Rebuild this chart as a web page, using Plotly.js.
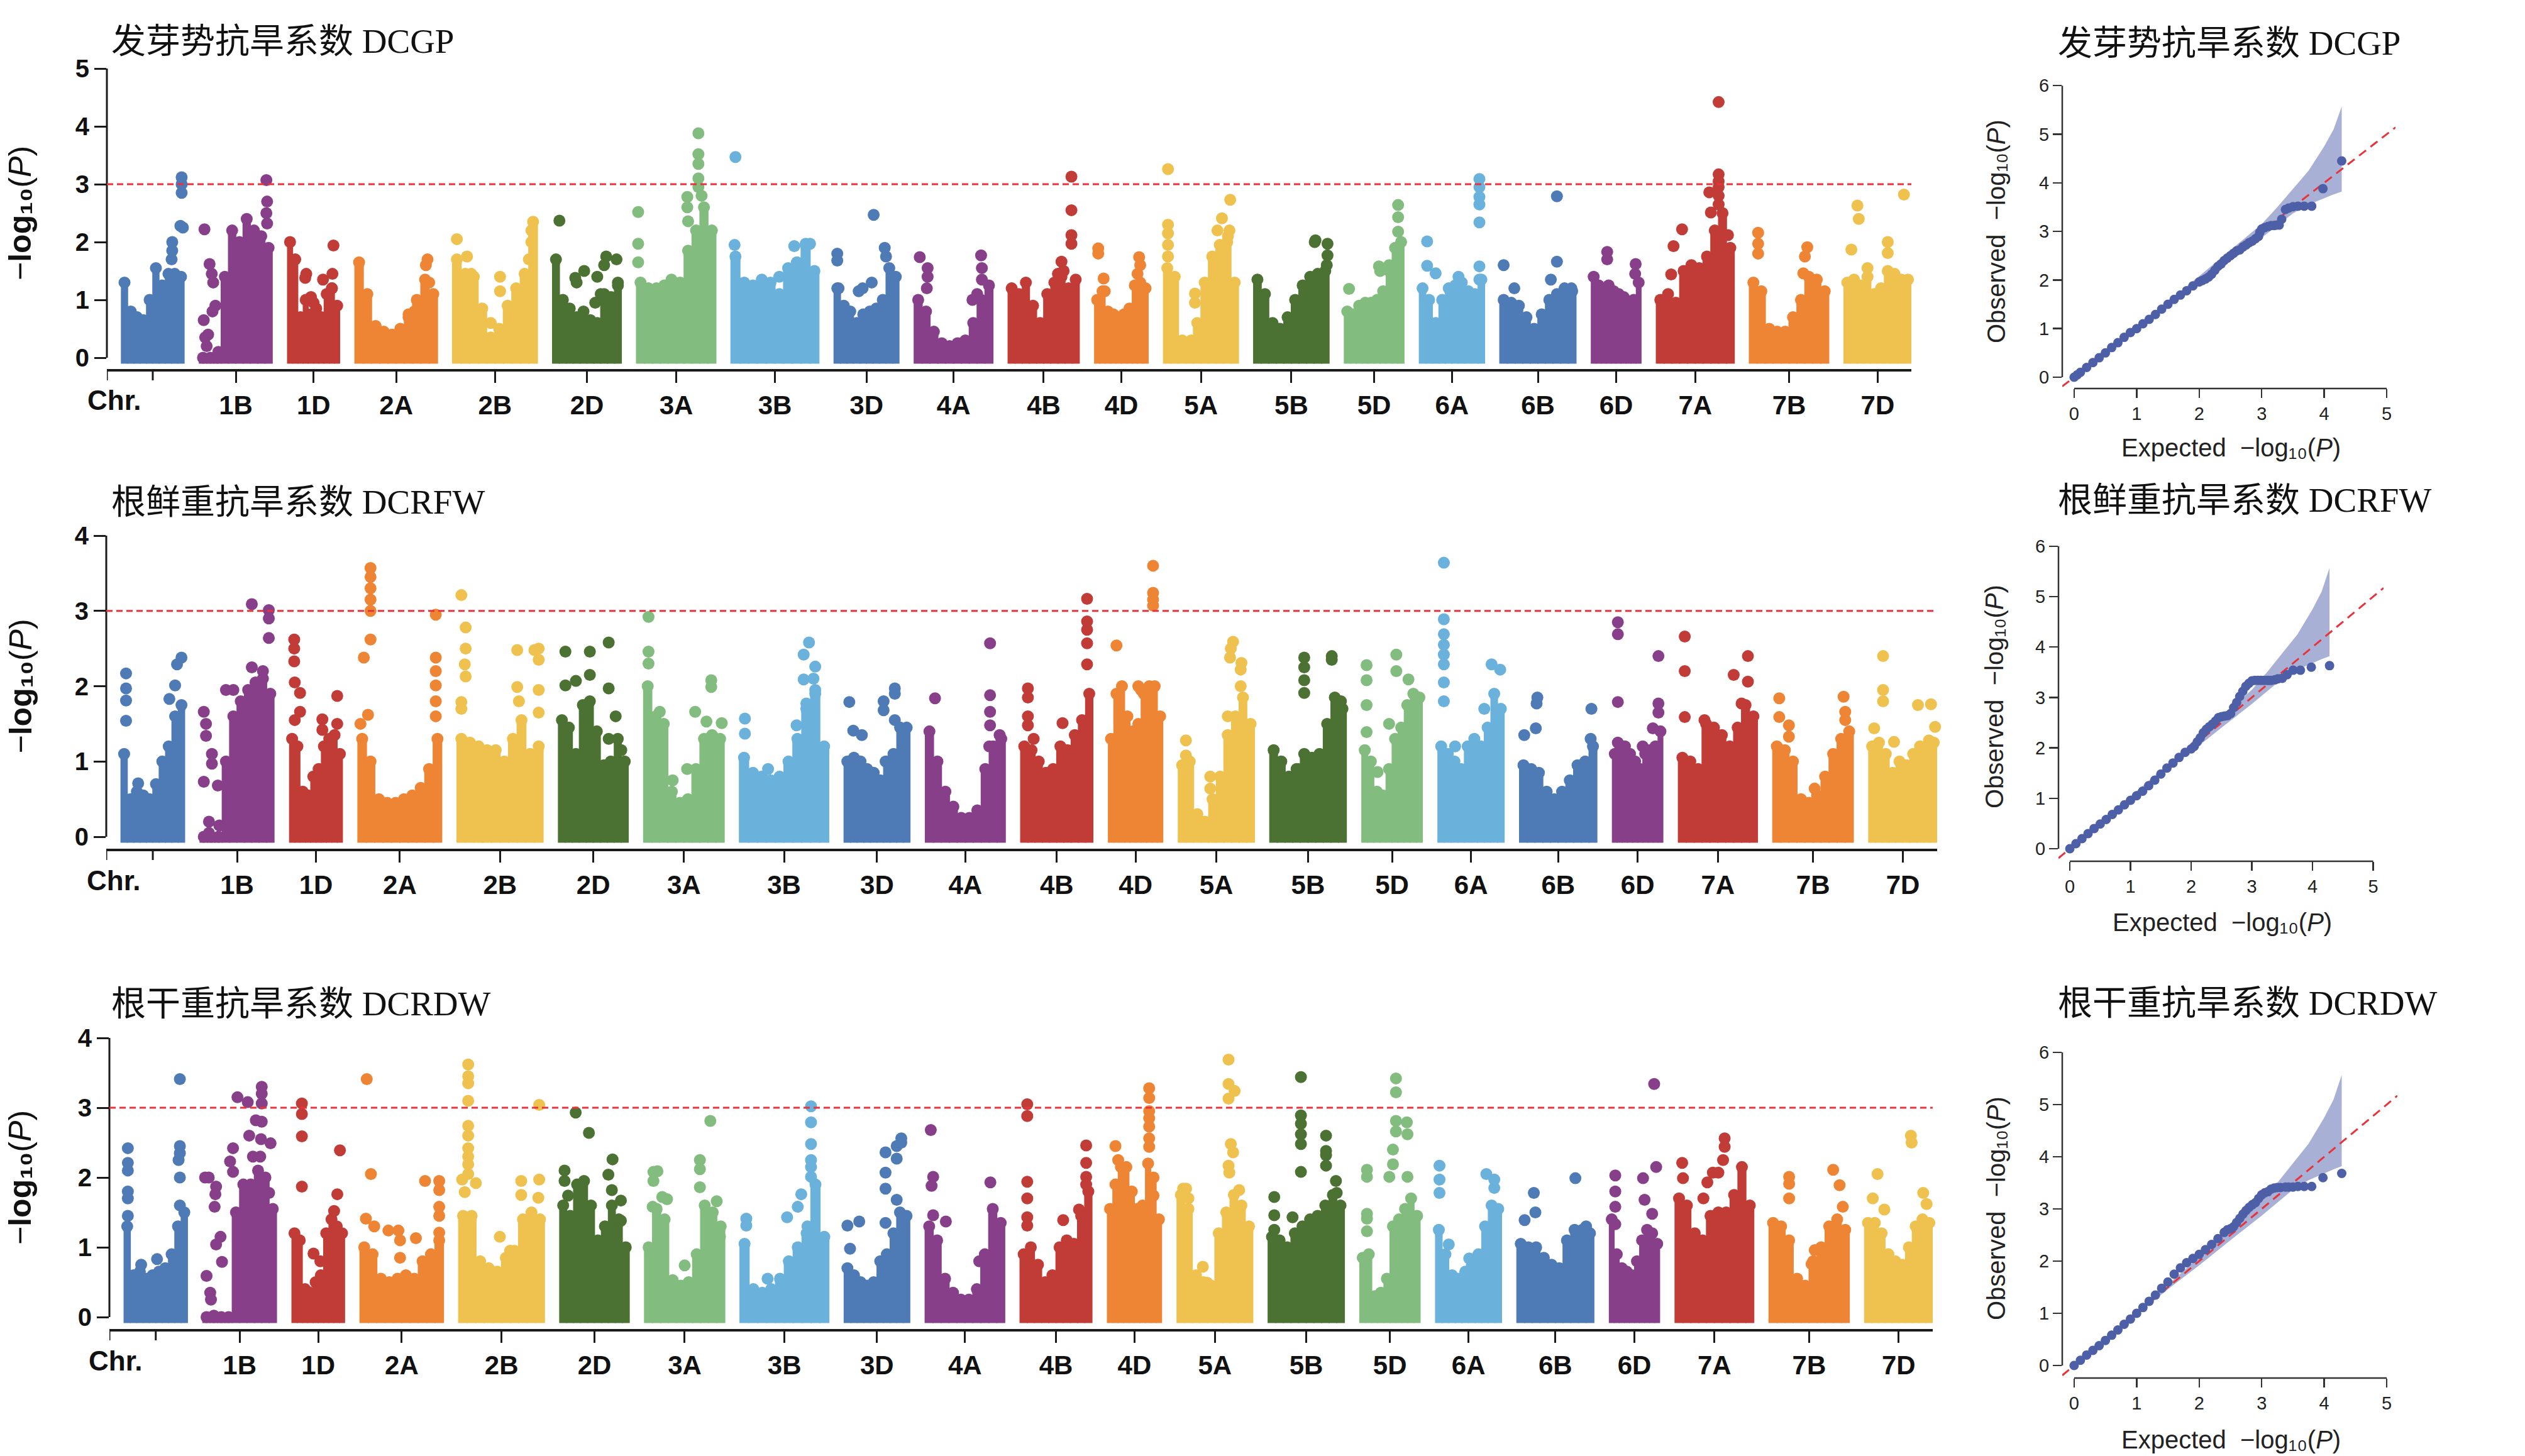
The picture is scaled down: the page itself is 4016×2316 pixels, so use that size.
<!DOCTYPE html>
<html>
<head>
<meta charset="utf-8">
<script src="https://cdn.plot.ly/plotly-3.0.1.min.js"></script>
<style>
html,body{margin:0;padding:0;background:#fff;}
#chart{width:4016px;height:2316px;}
</style>
</head>
<body>
<div id="chart"></div>
<script>
// ---------------- DATA ----------------
const chrNames = ['1A','1B','1D','2A','2B','2D','3A','3B','3D','4A','4B','4D','5A','5B','5D','6A','6B','6D','7A','7B','7D'];
const chrLenMb = [594,689,495,780,801,651,750,830,615,744,673,509,709,713,566,618,720,473,736,750,638];
const panelTitles = ['发芽势抗旱系数 DCGP','根鲜重抗旱系数 DCRFW','根干重抗旱系数 DCRDW'];
const thresholdLog10P = 3;

// dense cloud envelope of -log10(P), 10 equal bins along each chromosome (1A..7D)
const dcgpBody = [
 [1.3,0.8,0.7,0.65,1.0,1.55,1.25,1.45,1.45,1.4],
 [0,0,0,1.4,2.2,2.0,2.4,2.2,2.1,1.9],
 [2.0,1.7,0.7,1.0,0.75,0.85,0.7,1.1,1.2,0.9],
 [1.65,1.1,0.55,0.45,0.4,0.5,0.7,1.0,1.35,1.1],
 [1.7,1.45,1.4,0.85,0.35,0.5,0.9,1.2,1.45,2.35],
 [1.7,1.0,0.85,0.7,0.8,0.65,0.6,1.1,1.05,1.3],
 [1.3,1.2,1.2,1.25,1.2,1.3,1.85,2.2,2.6,2.2],
 [1.75,1.3,1.25,1.35,1.3,1.1,1.55,1.65,1.95,1.5],
 [1.2,0.9,0.8,0.6,0.75,0.8,0.85,1.0,1.55,1.4],
 [1.0,0.8,0.45,0.25,0.2,0.25,0.3,0.6,1.0,1.25],
 [1.2,1.1,1.3,0.9,0.6,1.1,1.3,1.4,1.2,1.35],
 [1.0,1.15,0.8,0.75,0.7,0.75,0.85,1.25,1.3,1.2],
 [1.55,1.4,0.3,0.2,0.6,1.3,1.75,1.95,2.0,1.3],
 [1.35,1.1,0.6,0.5,0.7,1.0,1.25,1.4,1.45,1.5],
 [0.8,0.75,0.9,0.95,0.95,1.0,1.15,1.5,1.9,2.0],
 [1.2,1.0,0.6,1.0,1.2,1.25,1.3,1.15,1.1,1.35],
 [1.0,0.95,0.9,0.7,0.5,0.75,1.0,1.1,1.2,1.15],
 [1.4,1.25,1.2,1.25,1.15,1.1,1.05,0.9,1.0,1.3],
 [1.0,1.1,0.95,1.5,1.6,1.55,1.75,2.2,2.5,1.9],
 [1.3,1.15,0.5,0.45,0.45,0.7,1.0,1.4,1.35,1.15],
 [1.3,1.35,1.25,1.4,1.1,1.2,1.5,1.45,1.35,1.35]
];
// isolated SNPs above the cloud: [fraction along chromosome, -log10(P)]
const dcgpPeaks = [
 [[0.96,3.12],[0.96,3.0],[0.96,2.85],[0.94,2.28],[0.98,2.25],[0.81,2.0],[0.81,1.85],[0.8,1.7]],
 [[0.07,2.22],[0.14,1.62],[0.17,1.45],[0.19,1.3],[0.22,0.9],[0.18,0.8],[0.06,0.65],[0.08,0.35],[0.1,0.2],[0.26,0.1],[0.12,0.4],[0.92,3.07],[0.93,2.7],[0.92,2.5],[0.93,2.32]],
 [[0.36,1.45],[0.34,1.38],[0.45,1.05],[0.5,0.95],[0.68,1.35],[0.86,1.45],[0.88,1.94],[0.85,1.2]],
 [[0.88,1.7],[0.86,1.6],[0.72,0.8],[0.65,0.75],[0.9,1.3]],
 [[0.05,2.05],[0.17,1.75],[0.22,1.45],[0.56,1.4],[0.56,1.15],[0.45,0.6],[0.93,2.0],[0.93,2.2],[0.9,1.7]],
 [[0.1,2.37],[0.33,1.38],[0.35,1.3],[0.46,1.5],[0.65,1.4],[0.62,0.95],[0.78,1.75],[0.75,1.6],[0.93,1.7],[0.95,1.25],[0.7,1.1]],
 [[0.02,2.52],[0.02,1.97],[0.02,1.65],[0.44,1.35],[0.64,2.78],[0.64,2.6],[0.65,2.36],[0.78,3.88],[0.78,3.52],[0.78,3.35],[0.78,3.1],[0.78,2.95],[0.82,2.8]],
 [[0.05,3.47],[0.04,1.95],[0.72,1.93],[0.85,1.97],[0.9,1.97],[0.55,1.4]],
 [[0.05,1.8],[0.05,1.68],[0.07,1.2],[0.38,1.15],[0.44,1.2],[0.58,1.3],[0.61,2.47],[0.78,1.9],[0.8,1.75],[0.63,0.75]],
 [[0.07,1.74],[0.17,1.55],[0.17,1.4],[0.16,1.2],[0.85,1.77],[0.86,1.55],[0.86,1.35],[0.74,1.0],[0.8,1.1]],
 [[0.89,3.13],[0.89,2.55],[0.89,2.12],[0.89,1.97],[0.75,1.66],[0.7,1.45],[0.78,1.5]],
 [[0.07,1.89],[0.07,1.8],[0.17,1.37],[0.19,1.15],[0.83,1.74],[0.85,1.6],[0.8,1.45]],
 [[0.06,3.26],[0.06,2.3],[0.06,2.15],[0.06,1.95],[0.06,1.75],[0.42,1.11],[0.42,0.95],[0.37,0.3],[0.78,2.41],[0.89,2.73],[0.88,2.2],[0.86,2.1],[0.72,2.2]],
 [[0.82,2.03],[0.81,2.0],[0.98,1.97],[0.98,1.77],[0.97,1.6]],
 [[0.08,1.19],[0.58,1.58],[0.6,1.5],[0.9,2.64],[0.9,2.43],[0.9,2.18],[0.75,1.6]],
 [[0.12,2.01],[0.12,1.59],[0.25,1.46],[0.6,1.4],[0.92,3.09],[0.92,2.95],[0.92,2.78],[0.92,2.65],[0.92,2.34],[0.92,1.58],[0.92,1.35]],
 [[0.05,1.6],[0.19,1.2],[0.75,2.79],[0.75,1.66],[0.67,1.35],[0.94,1.2]],
 [[0.32,1.83],[0.32,1.7],[0.89,1.62],[0.88,1.45]],
 [[0.8,4.42],[0.8,3.17],[0.8,3.05],[0.8,2.95],[0.8,2.8],[0.8,2.65],[0.68,2.86],[0.7,2.51],[0.22,1.93],[0.33,2.22],[0.19,1.44],[0.92,2.12],[0.4,0.1],[0.4,0.25]],
 [[0.11,2.16],[0.11,1.97],[0.11,1.8],[0.73,1.91],[0.7,1.75],[0.68,1.46]],
 [[0.2,2.63],[0.22,2.4],[0.11,1.87],[0.65,2.0],[0.65,1.81],[0.89,2.82],[0.35,1.55]]
];

const dcrfwBody = [
 [1.1,0.5,0.6,0.55,0.5,0.7,1.0,1.2,1.6,1.75],
 [0,0,0,1.0,1.6,1.8,1.95,2.05,2.1,1.9],
 [1.3,1.2,0.6,0.55,0.8,0.9,1.2,1.3,1.35,1.1],
 [1.3,1.0,0.5,0.45,0.45,0.5,0.55,0.65,0.9,1.3],
 [1.3,1.25,1.2,1.15,1.15,1.0,1.3,1.55,1.1,1.2],
 [1.55,1.45,1.1,1.75,1.8,1.4,0.95,1.0,1.3,1.0],
 [2.0,1.6,1.5,0.6,0.45,0.5,0.9,1.3,1.35,1.3],
 [1.05,0.85,0.8,0.75,0.8,1.0,1.3,1.7,1.9,1.2],
 [1.0,1.05,1.0,0.9,0.85,0.75,1.0,1.1,1.45,1.45],
 [1.4,1.0,0.6,0.4,0.25,0.25,0.35,0.9,1.2,1.3],
 [1.2,1.15,1.0,0.85,0.9,1.2,1.15,1.35,1.55,1.9],
 [1.3,1.9,2.0,1.6,1.4,1.5,1.9,2.0,2.0,1.6],
 [0.95,1.0,0.3,0.2,0.5,0.8,1.35,1.6,1.85,1.5],
 [1.15,1.0,0.8,0.9,1.1,1.05,1.1,1.5,1.85,1.7],
 [1.15,1.0,0.6,0.55,0.9,1.3,1.45,1.75,1.9,1.85],
 [1.2,1.1,1.0,0.9,1.2,1.3,1.2,1.45,1.9,1.7],
 [0.95,0.9,0.85,0.6,0.5,0.6,0.75,0.95,1.0,1.2],
 [1.1,1.15,1.2,1.1,1.0,0.9,1.1,1.15,1.2,1.4],
 [1.05,1.0,0.9,1.5,1.45,1.35,1.2,1.45,1.75,1.6],
 [1.2,1.15,1.0,0.5,0.45,0.55,0.8,1.1,1.3,1.4],
 [1.2,1.25,1.1,0.85,1.0,0.95,1.1,1.2,1.2,1.25]
];
const dcrfwPeaks = [
 [[0.08,2.17],[0.08,1.97],[0.08,1.81],[0.08,1.54],[0.27,0.71],[0.88,2.29],[0.95,2.38],[0.85,2.01],[0.76,1.83]],
 [[0.05,1.66],[0.08,1.5],[0.08,1.34],[0.16,1.1],[0.16,0.97],[0.05,0.73],[0.24,0.68],[0.12,0.2],[0.26,0.15],[0.12,0.05],[0.7,3.09],[0.7,2.25],[0.93,3.01],[0.93,2.9],[0.93,2.64],[0.85,2.2],[0.35,1.95],[0.45,1.95]],
 [[0.09,2.62],[0.09,2.5],[0.09,2.33],[0.1,2.05],[0.2,1.91],[0.2,1.66],[0.1,1.55],[0.62,1.56],[0.62,1.42],[0.9,1.87],[0.9,1.5]],
 [[0.15,3.57],[0.15,3.45],[0.15,3.3],[0.15,3.15],[0.15,3.0],[0.15,2.62],[0.07,2.38],[0.12,1.62],[0.03,1.5],[0.93,2.95],[0.93,2.38],[0.93,2.2],[0.93,2.01],[0.93,1.8],[0.93,1.6]],
 [[0.05,3.21],[0.1,2.78],[0.1,2.5],[0.09,2.29],[0.1,2.13],[0.05,1.79],[0.05,1.7],[0.7,2.48],[0.7,1.99],[0.72,1.8],[0.95,2.5],[0.95,2.35],[0.95,1.95],[0.95,1.65],[0.9,2.48]],
 [[0.1,2.46],[0.1,2.01],[0.25,2.07],[0.45,2.46],[0.45,2.15],[0.72,2.58],[0.72,1.97],[0.82,1.6],[0.9,1.15],[0.72,1.3]],
 [[0.06,2.92],[0.06,2.46],[0.06,2.3],[0.2,1.66],[0.36,0.75],[0.54,0.9],[0.64,1.66],[0.84,2.08],[0.84,1.99],[0.78,1.53],[0.97,1.51]],
 [[0.06,1.57],[0.06,1.37],[0.64,1.48],[0.78,2.58],[0.72,2.42],[0.85,2.26],[0.72,2.09],[0.85,1.95],[0.75,1.77],[0.32,0.9],[0.83,2.1]],
 [[0.08,1.79],[0.14,1.41],[0.27,1.35],[0.6,1.8],[0.6,1.68],[0.77,1.97],[0.77,1.9],[0.77,1.55],[0.63,1.0]],
 [[0.12,1.84],[0.81,2.57],[0.81,1.88],[0.81,1.66],[0.81,1.48],[0.93,1.35],[0.8,1.2]],
 [[0.1,1.97],[0.1,1.85],[0.1,1.6],[0.1,1.48],[0.18,1.3],[0.58,1.51],[0.92,3.16],[0.92,2.86],[0.92,2.75],[0.92,2.57],[0.92,2.29]],
 [[0.15,2.54],[0.82,3.6],[0.82,3.24],[0.82,3.15],[0.82,3.07],[0.55,2.0],[0.6,1.95]],
 [[0.1,1.28],[0.1,1.08],[0.42,0.64],[0.42,0.8],[0.72,2.59],[0.69,2.5],[0.68,2.38],[0.83,2.31],[0.82,2.22],[0.82,2.0],[0.65,1.6]],
 [[0.45,2.38],[0.45,2.25],[0.45,2.08],[0.45,1.91],[0.37,0.9],[0.81,2.4],[0.81,2.35],[0.93,1.8]],
 [[0.08,2.28],[0.08,2.08],[0.08,1.75],[0.08,1.39],[0.26,0.86],[0.57,2.42],[0.57,2.2],[0.77,2.09],[0.45,1.5]],
 [[0.09,3.64],[0.09,2.89],[0.09,2.69],[0.09,2.55],[0.09,2.42],[0.09,2.29],[0.09,2.05],[0.09,1.8],[0.81,2.29],[0.94,2.22],[0.7,1.7],[0.26,1.2]],
 [[0.22,1.77],[0.23,1.85],[0.21,1.44],[0.06,1.35],[0.93,1.7],[0.92,1.3]],
 [[0.11,2.85],[0.11,2.69],[0.11,1.79],[0.11,1.25],[0.91,2.4],[0.91,1.77],[0.91,1.65],[0.8,1.44],[0.6,1.2]],
 [[0.08,2.66],[0.08,2.2],[0.08,1.59],[0.7,2.15],[0.88,2.4],[0.88,2.06],[0.8,1.77],[0.33,1.55]],
 [[0.08,1.84],[0.08,1.59],[0.2,1.48],[0.2,1.33],[0.52,0.64],[0.88,1.86],[0.9,1.66],[0.9,1.55]],
 [[0.21,2.4],[0.21,1.95],[0.21,1.8],[0.08,1.44],[0.37,1.26],[0.72,1.75],[0.91,1.76],[0.97,1.46],[0.88,1.28]]
];

const dcrdwBody = [
 [1.3,0.6,0.65,0.55,0.6,0.65,0.7,0.9,1.3,1.5],
 [0,0,0,0,1.5,1.9,1.9,2.1,2.0,1.55],
 [1.2,1.1,0.4,0.35,0.5,0.6,1.2,1.4,1.3,1.2],
 [1.0,0.9,0.55,0.5,0.55,0.6,0.55,0.8,0.9,1.1],
 [1.45,1.45,0.8,0.7,0.65,0.85,0.95,1.4,1.5,1.4],
 [1.6,1.45,1.9,1.95,1.6,1.1,1.3,1.6,1.4,1.0],
 [1.0,1.55,1.4,0.4,0.45,0.5,0.9,1.6,1.5,1.3],
 [1.05,0.4,0.35,0.4,0.55,0.8,1.0,1.2,1.9,1.15],
 [0.7,0.6,0.5,0.45,0.5,0.8,0.9,1.2,1.5,1.45],
 [1.3,1.1,0.55,0.35,0.25,0.25,0.4,0.9,1.55,1.35],
 [0.9,1.0,0.75,0.5,0.6,1.0,1.1,1.05,1.45,1.8],
 [1.55,1.9,2.15,2.15,1.8,1.55,1.6,2.2,2.0,1.4],
 [1.75,1.55,0.6,0.5,0.45,1.2,1.5,1.75,1.6,1.3],
 [1.15,1.1,1.0,1.2,1.3,1.4,1.45,1.6,1.75,1.6],
 [0.85,0.9,0.3,0.35,0.55,1.3,1.4,1.55,1.7,1.45],
 [1.25,0.9,0.6,0.55,0.65,0.75,0.9,1.3,1.6,1.55],
 [1.05,1.0,1.0,0.85,0.75,0.7,1.1,1.25,1.25,1.2],
 [1.4,0.9,0.7,0.65,0.6,0.8,1.1,1.25,1.2,1.05],
 [1.7,1.6,1.2,1.1,1.45,1.5,1.5,1.75,2.15,1.6],
 [1.35,1.3,1.1,0.55,0.45,0.8,1.0,1.3,1.4,1.25],
 [1.35,1.35,1.2,0.9,0.8,0.75,1.0,1.3,1.4,1.35]
];
const dcrdwPeaks = [
 [[0.06,2.42],[0.06,2.21],[0.06,2.1],[0.06,1.8],[0.06,1.7],[0.06,1.45],[0.27,0.75],[0.52,0.83],[0.88,3.41],[0.88,2.45],[0.88,2.35],[0.86,2.25],[0.88,2.0],[0.88,1.6]],
 [[0.03,2.0],[0.08,2.0],[0.18,1.87],[0.17,1.76],[0.16,1.58],[0.24,1.15],[0.18,1.04],[0.26,0.79],[0.05,0.59],[0.1,0.35],[0.11,0.25],[0.15,0.02],[0.41,2.42],[0.37,2.23],[0.41,2.08],[0.47,3.15],[0.61,3.08],[0.8,3.3],[0.8,3.2],[0.8,3.06],[0.72,2.82],[0.8,2.8],[0.63,2.6],[0.79,2.55],[0.92,2.49],[0.68,2.3],[0.78,2.3],[0.9,1.78]],
 [[0.19,3.06],[0.19,2.91],[0.19,2.59],[0.19,1.87],[0.41,0.91],[0.54,0.8],[0.91,2.39],[0.86,1.76],[0.8,1.52]],
 [[0.08,3.41],[0.13,2.05],[0.07,1.41],[0.17,1.3],[0.34,1.24],[0.46,1.24],[0.48,1.1],[0.48,0.85],[0.67,1.13],[0.78,1.95],[0.95,1.95],[0.95,1.82],[0.95,1.58],[0.95,1.45],[0.95,1.21]],
 [[0.11,3.62],[0.11,3.45],[0.11,3.35],[0.11,3.1],[0.11,2.74],[0.11,2.6],[0.11,2.42],[0.11,2.3],[0.11,2.19],[0.11,2.05],[0.04,1.97],[0.2,1.92],[0.07,1.79],[0.48,1.15],[0.6,0.95],[0.73,1.95],[0.73,1.75],[0.94,3.04],[0.94,1.97],[0.93,1.71]],
 [[0.07,2.1],[0.07,1.95],[0.12,1.74],[0.23,2.93],[0.42,2.64],[0.76,2.26],[0.7,2.04],[0.75,1.82],[0.88,1.67],[0.88,1.38]],
 [[0.11,2.08],[0.11,1.95],[0.1,1.58],[0.28,1.69],[0.16,2.09],[0.22,1.72],[0.35,0.53],[0.5,0.74],[0.69,2.25],[0.69,2.12],[0.69,1.86],[0.82,2.81],[0.9,1.66],[0.94,1.15]],
 [[0.07,1.41],[0.07,1.31],[0.31,0.55],[0.53,1.43],[0.65,1.58],[0.69,1.76],[0.8,3.02],[0.8,2.79],[0.8,2.48],[0.8,2.25],[0.8,2.15],[0.8,2.01],[0.76,1.3]],
 [[0.05,1.31],[0.23,1.37],[0.09,0.98],[0.63,2.36],[0.63,2.07],[0.63,1.84],[0.63,1.35],[0.8,2.45],[0.8,2.27],[0.8,1.68],[0.87,2.56],[0.87,2.5]],
 [[0.07,2.68],[0.1,2.01],[0.08,1.88],[0.1,1.46],[0.26,1.37],[0.82,1.93],[0.68,0.8]],
 [[0.1,3.05],[0.1,2.88],[0.1,1.94],[0.1,1.7],[0.1,1.43],[0.1,1.31],[0.6,1.39],[0.82,1.54],[0.92,2.46],[0.92,2.21],[0.92,2.01],[0.92,1.9]],
 [[0.15,2.45],[0.2,2.25],[0.77,3.28],[0.77,3.14],[0.77,2.95],[0.77,2.85],[0.77,2.73],[0.77,2.56],[0.77,2.44],[0.85,1.74]],
 [[0.08,1.84],[0.12,1.84],[0.15,1.7],[0.34,0.72],[0.4,0.49],[0.68,3.69],[0.68,3.34],[0.76,3.24],[0.68,3.13],[0.71,2.48],[0.74,2.36],[0.68,2.17],[0.69,2.07],[0.82,1.82]],
 [[0.08,1.72],[0.08,1.46],[0.08,1.25],[0.32,1.43],[0.43,3.44],[0.43,2.89],[0.43,2.77],[0.43,2.62],[0.43,2.48],[0.43,2.08],[0.76,2.6],[0.76,2.38],[0.76,2.32],[0.76,2.17],[0.89,1.95],[0.9,1.78]],
 [[0.12,2.11],[0.12,2.01],[0.12,1.48],[0.12,1.41],[0.12,1.23],[0.6,3.42],[0.6,3.22],[0.6,2.81],[0.6,2.66],[0.55,2.4],[0.55,2.19],[0.49,2.01],[0.78,2.79],[0.79,2.62],[0.79,2.01]],
 [[0.06,2.17],[0.06,1.97],[0.06,1.78],[0.2,1.04],[0.51,0.84],[0.77,2.05],[0.89,1.97],[0.89,1.85]],
 [[0.22,1.78],[0.24,1.5],[0.1,1.39],[0.76,1.99],[0.9,1.3]],
 [[0.12,2.03],[0.12,1.8],[0.12,1.58],[0.12,1.33],[0.67,1.99],[0.7,1.68],[0.85,1.48],[0.93,2.15],[0.89,3.34]],
 [[0.09,2.21],[0.1,1.99],[0.3,0.1],[0.42,0.2],[0.41,1.93],[0.48,2.07],[0.55,2.07],[0.61,2.25],[0.63,2.56],[0.63,2.44],[0.36,1.7]],
 [[0.25,2.01],[0.25,1.91],[0.25,1.7],[0.53,0.76],[0.57,0.96],[0.8,2.11],[0.88,1.89],[0.92,1.58]],
 [[0.19,2.05],[0.12,1.7],[0.29,1.54],[0.68,2.6],[0.69,2.5],[0.86,1.78],[0.91,1.62]]
];

// QQ plots: expected vs observed -log10(P)
const dcgpQQExp = [0,0.05,0.1,0.2,0.3,0.4,0.5,0.6,0.7,0.8,0.9,1.0,1.1,1.2,1.3,1.4,1.5,1.6,1.7,1.8,1.9,2.0,2.05,2.1,2.15,2.2,2.25,2.3,2.35,2.4,2.45,2.5,2.55,2.6,2.65,2.7,2.75,2.8,2.85,2.9,2.95,2.97,3.0,3.05,3.1,3.15,3.2,3.24,3.28,3.32,3.38,3.43,3.5,3.58,3.68,3.8,3.98,4.28];
const dcgpQQObs = [0,0.05,0.1,0.2,0.3,0.4,0.5,0.61,0.71,0.82,0.92,1.0,1.1,1.19,1.29,1.4,1.5,1.6,1.69,1.78,1.88,1.96,1.99,2.02,2.06,2.12,2.2,2.28,2.33,2.4,2.45,2.5,2.55,2.6,2.62,2.68,2.72,2.77,2.8,2.85,2.9,2.98,3.05,3.08,3.1,3.12,3.12,3.13,3.13,3.25,3.45,3.48,3.51,3.52,3.52,3.52,3.88,4.45];
const dcrfwQQExp = [0,0.1,0.2,0.3,0.4,0.5,0.6,0.7,0.8,0.9,1.0,1.1,1.2,1.3,1.4,1.5,1.6,1.7,1.8,1.9,2.0,2.05,2.1,2.15,2.2,2.25,2.3,2.35,2.4,2.45,2.5,2.55,2.6,2.65,2.7,2.75,2.8,2.85,2.9,2.95,3.0,3.05,3.1,3.15,3.2,3.25,3.28,3.32,3.38,3.43,3.5,3.58,3.68,3.8,3.98,4.28];
const dcrfwQQObs = [0,0.1,0.2,0.3,0.4,0.49,0.58,0.68,0.77,0.87,0.96,1.05,1.14,1.25,1.36,1.48,1.6,1.7,1.81,1.91,1.98,2.03,2.12,2.2,2.3,2.37,2.42,2.47,2.53,2.6,2.62,2.63,2.64,2.68,2.8,2.9,3.02,3.12,3.22,3.28,3.33,3.34,3.34,3.34,3.34,3.34,3.34,3.34,3.35,3.37,3.38,3.45,3.54,3.54,3.6,3.63];
const dcrdwQQExp = [0,0.1,0.2,0.3,0.4,0.5,0.6,0.7,0.8,0.9,1.0,1.1,1.2,1.3,1.4,1.5,1.6,1.7,1.8,1.9,2.0,2.1,2.2,2.3,2.4,2.45,2.5,2.55,2.6,2.65,2.7,2.75,2.8,2.85,2.9,2.95,3.0,3.05,3.1,3.15,3.2,3.25,3.3,3.38,3.43,3.5,3.58,3.68,3.8,3.98,4.28];
const dcrdwQQObs = [0,0.1,0.2,0.29,0.38,0.48,0.58,0.68,0.79,0.89,1.0,1.11,1.23,1.35,1.48,1.6,1.75,1.87,1.97,2.05,2.13,2.22,2.32,2.43,2.55,2.6,2.62,2.66,2.74,2.82,2.9,2.97,3.03,3.08,3.12,3.2,3.27,3.31,3.33,3.38,3.4,3.41,3.41,3.42,3.42,3.42,3.43,3.43,3.43,3.6,3.68];
// 95% confidence band of the QQ plots
const qqBandX     = [0,0.5,1.0,1.5,2.0,2.5,3.0,3.25,3.5,3.75,4.0,4.15,4.28];
const qqBandUpper = [0.02,0.53,1.04,1.55,2.08,2.61,3.15,3.5,3.87,4.25,4.75,5.1,5.57];
const qqBandLower = [0,0.48,0.97,1.46,1.92,2.4,2.87,3.12,3.37,3.55,3.68,3.76,3.82];

// ---------------- STYLE / LAYOUT ----------------
const W = 4016, H = 2316;
const chrColors = ['#4E7BB5','#873F89','#C13C37','#EE8535','#EFC24F','#4B7133','#82BC7E','#6AB1DC'];
const leadGapMb = 137, chrGapMb = 144;
const red = '#E8333B';
const FS = 'Liberation Sans, Arial, Helvetica, sans-serif';
const TITLEF = 'Liberation Serif, Noto Sans CJK SC, serif';
const MAN_MARKER = 19, QQ_MARKER = 15;
const LOGP = '−<b>log₁₀</b>(<i>P</i>)';
const LOGP_PLAIN = '−log₁₀(<i>P</i>)';

const chrStart = [];
{ let acc = leadGapMb; chrLenMb.forEach(l => { chrStart.push(acc); acc += l + chrGapMb; }); }
const totalMb = chrStart[chrStart.length-1] + chrLenMb[chrLenMb.length-1];
const chrCenter = chrStart.map((s,i) => s + chrLenMb[i]/2);

const manPanels = [
 {ax:'',  left:170, right:3040, zeroPx:569,  ppu:92,     axisPx:587,  topPx:100,  yTickMax:5, titleY:66,   chrX:182, body:dcgpBody,  peaks:dcgpPeaks},
 {ax:'2', left:169, right:3081, zeroPx:1331, ppu:119.75, axisPx:1350, topPx:846,  yTickMax:4, titleY:798,  chrX:181, body:dcrfwBody, peaks:dcrfwPeaks},
 {ax:'3', left:174, right:3074, zeroPx:2095, ppu:111,    axisPx:2114, topPx:1645, yTickMax:4, titleY:1596, chrX:184, body:dcrdwBody, peaks:dcrdwPeaks}
];
const qqPanels = [
 {ax:'4', left:3280, right:3810, xMin:-0.19,  xMax:5.14, zeroPx:600,  ppu:77.3, axisPx:618,  topPx:128,  titleY:68,   xT:[3548,712],  yT:[3175,368],  exp:dcgpQQExp,  obs:dcgpQQObs},
 {ax:'5', left:3274, right:3791, xMin:-0.187, xMax:5.17, zeroPx:1350, ppu:80.2, axisPx:1370, topPx:861,  titleY:796,  xT:[3534,1467], yT:[3172,1108], exp:dcrfwQQExp, obs:dcrfwQQObs},
 {ax:'6', left:3280, right:3813, xMin:-0.19,  xMax:5.17, zeroPx:2172, ppu:83,   axisPx:2192, topPx:1665, titleY:1595, xT:[3548,2290], yT:[3175,1922], exp:dcrdwQQExp, obs:dcrdwQQObs}
];

const traces = [];
const layout = {
  width: W, height: H, margin:{l:0,r:0,t:0,b:0,pad:0},
  paper_bgcolor:'#ffffff', plot_bgcolor:'rgba(0,0,0,0)',
  showlegend:false, barmode:'overlay',
  font:{family:FS, color:'#111'},
  shapes:[], annotations:[]
};
const px = v => v / W, py = v => 1 - v / H;

manPanels.forEach((p, k) => {
  const xa = 'x' + p.ax, ya = 'y' + p.ax;
  const yMin = -(p.axisPx - p.zeroPx) / p.ppu, yMax = (p.zeroPx - p.topPx) / p.ppu;
  const r = (MAN_MARKER / 2) / p.ppu;
  const bx=[], by=[], bw=[], bc=[], mx=[], my=[], mc=[];
  chrNames.forEach((name, i) => {
    const len = chrLenMb[i], col = chrColors[i % chrColors.length];
    const b = p.body[i], n = b.length, w = len / n;
    b.forEach((v, j) => {
      const x = chrStart[i] + (j + 0.5) * w;
      bx.push(x); by.push(v + r); bw.push(w * 1.15); bc.push(col);
      mx.push(x); my.push(v); mc.push(col);
    });
    p.peaks[i].forEach(pk => { mx.push(chrStart[i] + pk[0] * len); my.push(pk[1]); mc.push(col); });
  });
  traces.push({type:'bar', x:bx, y:by, base:-r, width:bw, marker:{color:bc, line:{width:0}},
               xaxis:xa, yaxis:ya, hoverinfo:'skip'});
  traces.push({type:'scatter', mode:'markers', x:mx, y:my, marker:{size:MAN_MARKER, color:mc, line:{width:0}},
               cliponaxis:false, xaxis:xa, yaxis:ya, hoverinfo:'skip'});

  layout['xaxis' + p.ax] = {
    domain:[px(p.left), px(p.right)], range:[0, totalMb], anchor:ya,
    showline:true, linewidth:3.5, linecolor:'#1a1a1a', mirror:false,
    ticks:'outside', ticklen:18, tickwidth:3, tickcolor:'#1a1a1a',
    tickvals:chrCenter.slice(1), ticktext:chrNames.slice(1),
    tickfont:{family:FS, size:42, color:'#111', weight:'bold'},
    showgrid:false, zeroline:false, fixedrange:true
  };
  // unlabelled tick marks at the axis start ("Chr.") and at 1A
  [0, chrCenter[0]].forEach(xv => layout.shapes.push({type:'line', xref:xa, yref:'paper',
      x0:xv, x1:xv, y0:py(p.axisPx), y1:py(p.axisPx + 18), line:{color:'#1a1a1a', width:3}}));
  const yt = []; for (let t = 0; t <= p.yTickMax; t++) yt.push(t);
  layout['yaxis' + p.ax] = {
    domain:[py(p.axisPx), py(p.topPx)], range:[yMin, yMax], anchor:xa,
    showline:false, ticks:'outside', ticklen:19, tickwidth:3, tickcolor:'#1a1a1a',
    tickvals:yt, ticktext:yt.map(String),
    tickfont:{family:FS, size:40, color:'#111', weight:'bold'},
    showgrid:false, zeroline:false, fixedrange:true
  };
  layout.shapes.push({type:'line', xref:xa + ' domain', yref:ya, x0:0, x1:0, y0:0, y1:p.yTickMax,
                      line:{color:'#1a1a1a', width:3}});
  layout.shapes.push({type:'line', xref:xa, yref:ya, x0:0, x1:totalMb, y0:thresholdLog10P, y1:thresholdLog10P,
                      line:{color:red, width:3, dash:'10px,6px'}, layer:'above'});
  layout.annotations.push({xref:'paper', yref:'paper', x:px(175), y:py(p.titleY), xanchor:'left', yanchor:'middle',
    text:panelTitles[k], showarrow:false, font:{family:TITLEF, size:55, color:'#111'}});
  layout.annotations.push({xref:'paper', yref:'paper', x:px(32), y:py(p.zeroPx - p.ppu * p.yTickMax / 2),
    xanchor:'center', yanchor:'middle', textangle:-90, showarrow:false,
    text:LOGP, font:{family:FS, size:50, color:'#111'}});
  layout.annotations.push({xref:'paper', yref:'paper', x:px(p.chrX), y:py(p.axisPx + 50),
    xanchor:'center', yanchor:'middle', showarrow:false, text:'Chr.',
    font:{family:FS, size:44, color:'#111', weight:'bold'}});
});

qqPanels.forEach((p, k) => {
  const xa = 'x' + p.ax, ya = 'y' + p.ax;
  const yMin = -(p.axisPx - p.zeroPx) / p.ppu, yMax = (p.zeroPx - p.topPx) / p.ppu;
  traces.push({type:'scatter', mode:'lines', x:qqBandX.concat(qqBandX.slice().reverse()),
    y:qqBandUpper.concat(qqBandLower.slice().reverse()), fill:'toself', fillcolor:'rgb(168,177,213)',
    line:{width:0, color:'rgba(0,0,0,0)'}, xaxis:xa, yaxis:ya, hoverinfo:'skip'});
  traces.push({type:'scatter', mode:'lines', x:[p.xMin, p.xMax], y:[p.xMin, p.xMax],
    line:{color:red, width:3, dash:'14px,9px'}, xaxis:xa, yaxis:ya, hoverinfo:'skip'});
  traces.push({type:'scatter', mode:'markers', x:p.exp, y:p.obs,
    marker:{size:QQ_MARKER, color:'#4D5FA6', line:{width:0}}, cliponaxis:false, xaxis:xa, yaxis:ya, hoverinfo:'skip'});
  layout['xaxis' + p.ax] = {
    domain:[px(p.left), px(p.right)], range:[p.xMin, p.xMax], anchor:ya,
    showline:false, ticks:'outside', ticklen:14, tickwidth:2.5, tickcolor:'#333',
    tickvals:[0,1,2,3,4,5], ticktext:['0','1','2','3','4','5'], tickfont:{family:FS, size:29, color:'#222'},
    showgrid:false, zeroline:false, fixedrange:true
  };
  layout['yaxis' + p.ax] = {
    domain:[py(p.axisPx), py(p.topPx)], range:[yMin, yMax], anchor:xa,
    showline:false, ticks:'outside', ticklen:14, tickwidth:2.5, tickcolor:'#333',
    tickvals:[0,1,2,3,4,5,6], ticktext:['0','1','2','3','4','5','6'], tickfont:{family:FS, size:29, color:'#222'},
    showgrid:false, zeroline:false, fixedrange:true
  };
  layout.shapes.push({type:'line', xref:xa, yref:ya + ' domain', x0:0, x1:5, y0:0, y1:0, line:{color:'#333', width:2.5}});
  layout.shapes.push({type:'line', xref:xa + ' domain', yref:ya, x0:0, x1:0, y0:0, y1:6, line:{color:'#333', width:2.5}});
  layout.annotations.push({xref:'paper', yref:'paper', x:px(3271), y:py(p.titleY), xanchor:'left', yanchor:'middle',
    text:panelTitles[k], showarrow:false, font:{family:TITLEF, size:55, color:'#111'}});
  layout.annotations.push({xref:'paper', yref:'paper', x:px(p.xT[0]), y:py(p.xT[1]), xanchor:'center', yanchor:'middle',
    showarrow:false, text:'Expected  ' + LOGP_PLAIN, font:{family:FS, size:40, color:'#222'}});
  layout.annotations.push({xref:'paper', yref:'paper', x:px(p.yT[0]), y:py(p.yT[1]), xanchor:'center', yanchor:'middle',
    textangle:-90, showarrow:false, text:'Observed  ' + LOGP_PLAIN, font:{family:FS, size:40, color:'#222'}});
});

Plotly.newPlot('chart', traces, layout, {displayModeBar:false, staticPlot:true});
</script>
</body>
</html>
